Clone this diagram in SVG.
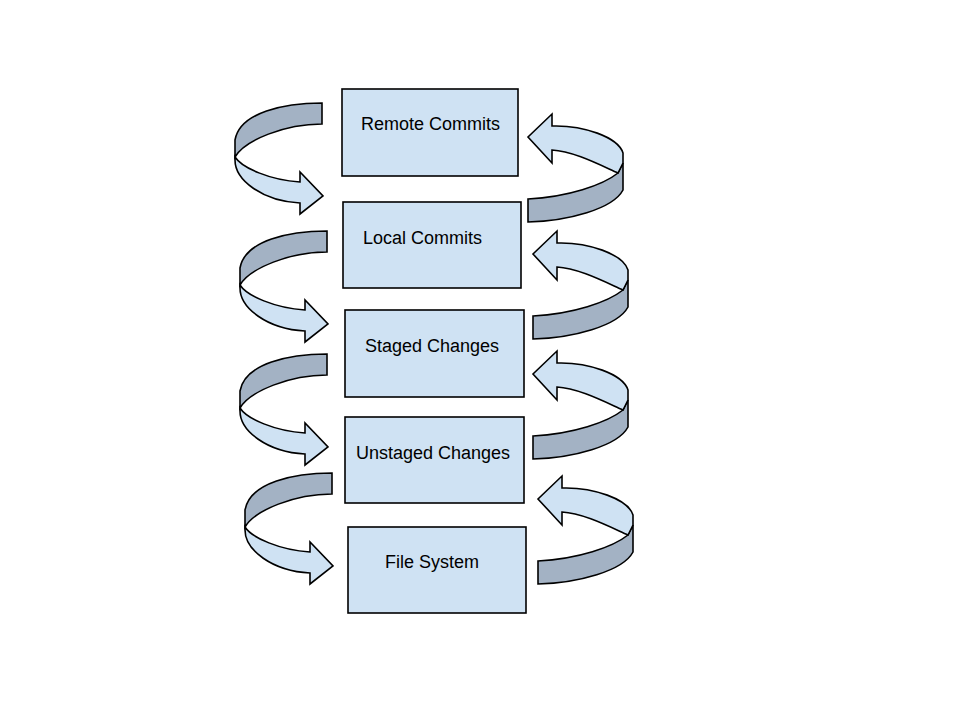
<svg xmlns="http://www.w3.org/2000/svg" xmlns:xlink="http://www.w3.org/1999/xlink" width="960" height="720" viewBox="0 0 960 720">
<style>
.box{fill:#cfe2f3;stroke:#000;stroke-width:1.6}
.lbl{font-family:"Liberation Sans",Arial,sans-serif;font-size:18px;fill:#000}
.back{fill:#a3b2c4;stroke:#000;stroke-width:1.6;stroke-linejoin:miter}
.front{fill:#cfe2f3;stroke:#000;stroke-width:1.6;stroke-linejoin:miter}
</style>
<defs>
<g id="arrowDown">
<path class="back" d="M0,0 C-37,0 -82,9 -87,37 L-87,54 C-77,37 -37,21 0,21 Z"/>
<path class="front" d="M-87,54 C-80,65 -52,77 -22,79 L-22,69 L1,93 L-22,111 L-22,100 C-60,98 -87,77 -87,57 Z"/>
</g>
<g id="arrowUp">
<path class="back" d="M0,62 C40,60 75,48 90,36 L95,26 L95,53 C85,72 40,84 0,85 Z"/>
<path class="front" d="M24,-11 C55,-12 90,0 95,16 L95,26 L90,36 C72,28 45,14 24,13 L24,26 L0,0 L24,-23 Z"/>
</g>
</defs>
<rect width="960" height="720" fill="#fff"/>
<g id="connectors">
<use xlink:href="#arrowDown" transform="translate(322,103)"/>
<use xlink:href="#arrowDown" transform="translate(327,231)"/>
<use xlink:href="#arrowDown" transform="translate(327,354)"/>
<use xlink:href="#arrowDown" transform="translate(332,473)"/>
<use xlink:href="#arrowUp" transform="translate(528,137)"/>
<use xlink:href="#arrowUp" transform="translate(533,254)"/>
<use xlink:href="#arrowUp" transform="translate(533,374)"/>
<use xlink:href="#arrowUp" transform="translate(538,499)"/>
</g>
<g id="remote-commits">
<rect class="box" x="342" y="89" width="176" height="87"/>
<text class="lbl" x="361" y="130">Remote Commits</text>
</g>
<g id="local-commits">
<rect class="box" x="343" y="202" width="178" height="86"/>
<text class="lbl" x="363" y="244">Local Commits</text>
</g>
<g id="staged-changes">
<rect class="box" x="345" y="310" width="179" height="87"/>
<text class="lbl" x="365" y="352">Staged Changes</text>
</g>
<g id="unstaged-changes">
<rect class="box" x="345" y="417" width="179" height="86"/>
<text class="lbl" x="356" y="459">Unstaged Changes</text>
</g>
<g id="file-system">
<rect class="box" x="348" y="527" width="178" height="86"/>
<text class="lbl" x="385" y="568">File System</text>
</g>
</svg>
